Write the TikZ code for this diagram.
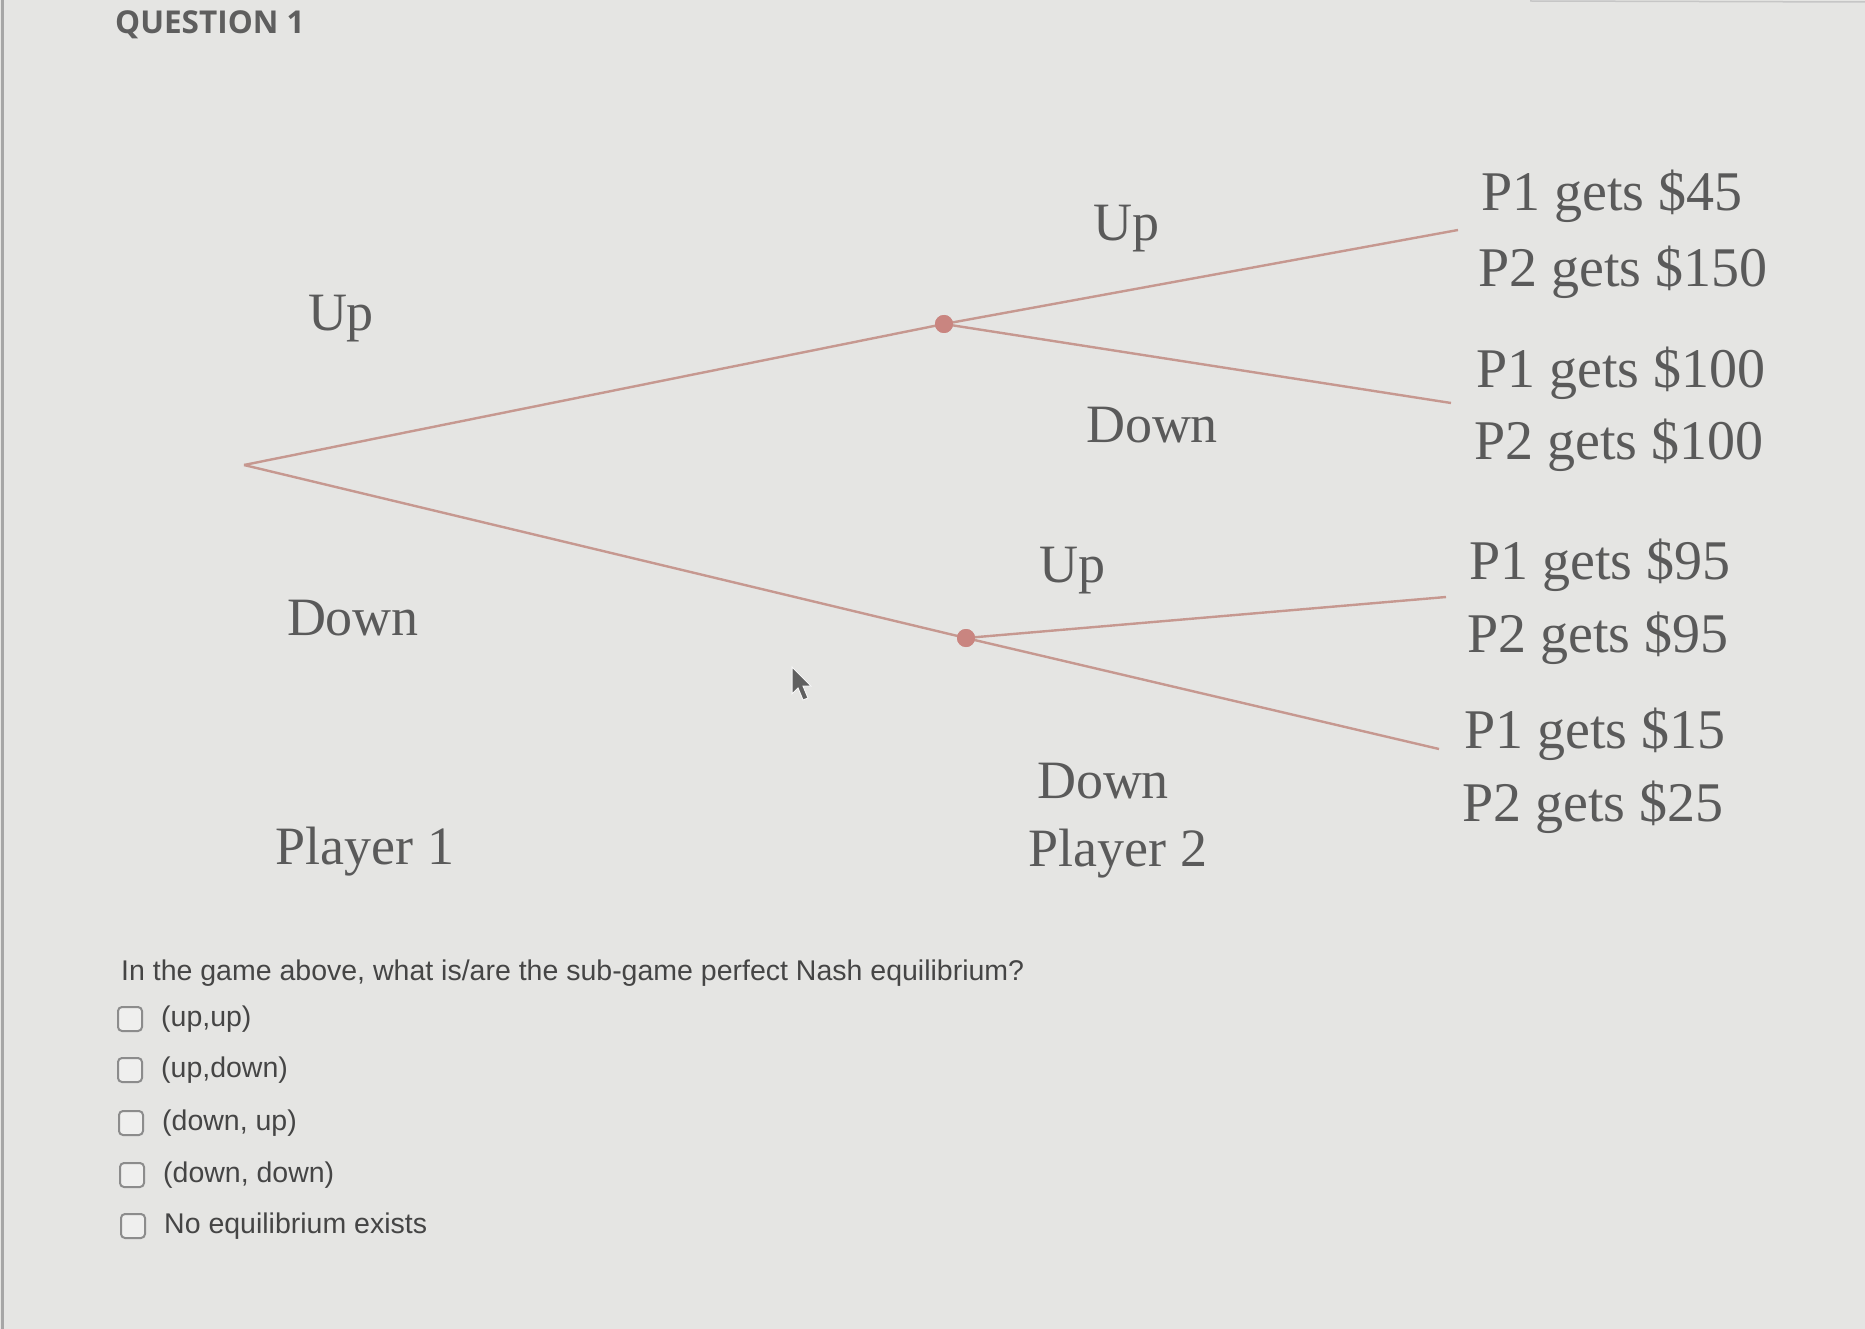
\documentclass[tikz,border=0pt]{standalone}
\usepackage{fontspec}
\setmainfont{Liberation Serif}
\newfontfamily\lblfont{Liberation Serif}
\newfontfamily\qfont{Liberation Sans}
\newfontfamily\headfont{Open Sans}
\definecolor{bgc}{HTML}{E5E5E3}
\definecolor{edgec}{HTML}{C69890}
\definecolor{dotc}{HTML}{C98580}
\definecolor{lblc}{HTML}{5A5A5A}
\definecolor{qc}{HTML}{454545}
\definecolor{headc}{HTML}{5E5E5E}
\definecolor{boxc}{HTML}{8C8C8C}
\tikzset{
  branch/.style={draw=edgec, line width=2.4pt},
  decnode/.style={circle, fill=dotc, inner sep=0pt, minimum size=18pt},
  rootpt/.style={inner sep=0pt, minimum size=0pt},
  lbl/.style={text=lblc, font=\lblfont\fontsize{54}{56}\selectfont, inner sep=0pt},
  pay/.style={text=lblc, font=\lblfont\fontsize{56}{58}\selectfont, inner sep=0pt, anchor=west},
  qtext/.style={text=qc, font=\qfont\fontsize{28.5}{30}\selectfont, inner sep=0pt, anchor=west},
  cbox/.style={draw=boxc, line width=2pt, rounded corners=4pt, fill=white!40!bgc, minimum width=24pt, minimum height=24pt, inner sep=0pt},
}
\begin{document}
\begin{tikzpicture}[x=1pt,y=-1pt]
\useasboundingbox (0,0) rectangle (1865,1329);
\fill[bgc] (0,0) rectangle (1865,1329);
\draw[gray!70, line width=3pt] (2,0) -- (2,1329);
\draw[gray!45, line width=1.5pt] (1530,1) -- (1865,2);
% heading
\node[text=headc, font=\headfont\bfseries\fontsize{31.5}{33}\selectfont, inner sep=0pt, anchor=west] (head) at (115,25) {QUESTION 1};
% tree nodes
\node[rootpt] (root) at (244,465) {};
\node[decnode] (n1) at (944,324) {};
\node[decnode] (n2) at (966,638) {};
\coordinate (t1) at (1458,230);
\coordinate (t2) at (1451,403);
\coordinate (t3) at (1446,597);
\coordinate (t4) at (1439,749);
\draw[branch] (root.center) -- (n1.center);
\draw[branch] (root.center) -- (n2.center);
\draw[branch] (n1.center) -- (t1);
\draw[branch] (n1.center) -- (t2);
\draw[branch] (n2.center) -- (t3);
\draw[branch] (n2.center) -- (t4);
\node[decnode] at (n1) {};
\node[decnode] at (n2) {};
% action labels
\node[lbl] (p1up) at (341,319) {Up};
\node[lbl] (p1down) at (353,618) {Down};
\node[lbl] (pl1) at (365,852) {Player 1};
\node[lbl] (p2up1) at (1126,229) {Up};
\node[lbl] (p2down1) at (1152,425) {Down};
\node[lbl] (p2up2) at (1072,571) {Up};
\node[lbl] (p2down2) at (1103,781) {Down};
\node[lbl] (pl2) at (1118,854) {Player 2};
% payoffs
\node[pay] (a1) at (1481,196) {P1 gets \$45};
\node[pay] (a2) at (1478,272) {P2 gets \$150};
\node[pay] (b1) at (1476,373) {P1 gets \$100};
\node[pay] (b2) at (1474,445) {P2 gets \$100};
\node[pay] (c1) at (1469,565) {P1 gets \$95};
\node[pay] (c2) at (1467,638) {P2 gets \$95};
\node[pay] (d1) at (1464,734) {P1 gets \$15};
\node[pay] (d2) at (1462,807) {P2 gets \$25};
% cursor
\fill[gray!75!black, draw=white!70!bgc, line width=1pt] (792,667) -- (792,694) -- (798,688) -- (803,700) -- (808,698) -- (803,686) -- (811,686) -- cycle;
% question
\node[qtext] (q) at (121,973) {In the game above, what is/are the sub-game perfect Nash equilibrium?};
\node[cbox] (cb1) at (130,1019) {};
\node[cbox] (cb2) at (130,1070) {};
\node[cbox] (cb3) at (131,1123) {};
\node[cbox] (cb4) at (132,1175) {};
\node[cbox] (cb5) at (133,1226) {};
\node[qtext] (o1) at (161,1019) {(up,up)};
\node[qtext] (o2) at (161,1070) {(up,down)};
\node[qtext] (o3) at (162,1123) {(down, up)};
\node[qtext] (o4) at (163,1175) {(down, down)};
\node[qtext] (o5) at (164,1226) {No equilibrium exists};
\end{tikzpicture}
\end{document}
